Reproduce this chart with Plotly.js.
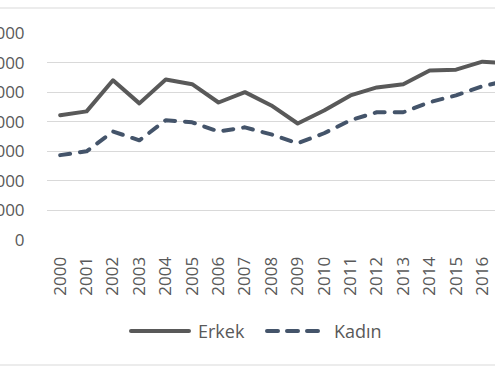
<!DOCTYPE html>
<html>
<head>
<meta charset="utf-8">
<script src="https://cdn.plot.ly/plotly-3.0.1.min.js"></script>
<style>
  html, body { margin: 0; padding: 0; width: 495px; height: 372px; overflow: hidden; background: #fff; position: relative; }
  #chart { position: absolute; left: -40px; top: 0; width: 600px; height: 372px; }
  .scatterlayer path.js-line, .shapelayer path { stroke-linecap: round; stroke-linejoin: round; }
</style>
</head>
<body>
<div id="chart"></div>
<script>
const years = ["2000","2001","2002","2003","2004","2005","2006","2007","2008","2009","2010","2011","2012","2013","2014","2015","2016","2017"];
const erkek = [4220, 4350, 5400, 4620, 5430, 5270, 4650, 5000, 4550, 3940, 4380, 4890, 5160, 5270, 5730, 5760, 6030, 5980];
const kadin = [2870, 3000, 3670, 3370, 4050, 3980, 3670, 3810, 3570, 3270, 3610, 4050, 4320, 4320, 4660, 4890, 5200, 5400];
const yTicks = [0, 1000, 2000, 3000, 4000, 5000, 6000, 7000];
const names = ["Erkek", "Kadın"];

const grey = "#595959";
const blue = "#44546A";
const fontFam = "'Open Sans', 'Liberation Sans', sans-serif";

// page-pixel helpers for legend / frame placement (plot area: x 47..522, y 33..240 in page px)
const OFF = 40;
const PL = 47, PW = 475, PB = 240, PH = 207;
const px = x => (x - PL) / PW;
const py = y => (PB - y) / PH;

const traces = [
  { x: years, y: erkek, name: names[0], type: "scatter", mode: "lines",
    line: { color: grey, width: 4 }, showlegend: false, hoverinfo: "skip" },
  { x: years, y: kadin, name: names[1], type: "scatter", mode: "lines",
    line: { color: blue, width: 4, dash: "10px,10px" }, showlegend: false, hoverinfo: "skip" }
];

const layout = {
  width: 600, height: 372,
  margin: { l: PL + OFF, r: 600 - (PL + OFF + PW), t: 33, b: 372 - PB },
  paper_bgcolor: "#fff", plot_bgcolor: "#fff",
  font: { family: fontFam, color: grey, size: 17 },
  showlegend: false,
  xaxis: {
    type: "category", range: [-0.5, 17.5], tickangle: -90,
    showgrid: false, zeroline: false, showline: false,
    ticks: "outside", ticklen: 9, tickcolor: "rgba(0,0,0,0)",
    tickfont: { size: 17, color: grey, family: fontFam }, automargin: false
  },
  yaxis: {
    range: [0, 7000], tickvals: yTicks, ticktext: yTicks.map(String),
    showgrid: true, gridcolor: "#D9D9D9", gridwidth: 1, zeroline: false, showline: false,
    ticks: "outside", ticklen: 18, tickcolor: "rgba(0,0,0,0)",
    tickfont: { size: 17, color: grey, family: fontFam }, automargin: false
  },
  shapes: [
    { type: "line", xref: "paper", yref: "paper", x0: px(-60), x1: px(560), y0: py(8), y1: py(8), line: { color: "#D9D9D9", width: 1 } },
    { type: "line", xref: "paper", yref: "paper", x0: px(-60), x1: px(560), y0: py(365), y1: py(365), line: { color: "#D9D9D9", width: 1 } },
    { type: "line", xref: "paper", yref: "paper", x0: px(131), x1: px(189), y0: py(331), y1: py(331), line: { color: grey, width: 4 } },
    { type: "line", xref: "paper", yref: "paper", x0: px(267), x1: px(320), y0: py(331), y1: py(331), line: { color: blue, width: 4, dash: "11px,9px" } }
  ],
  annotations: [
    { text: names[0], xref: "paper", yref: "paper", x: px(196), y: py(331), xanchor: "left", yanchor: "middle", showarrow: false, font: { size: 18, color: grey, family: fontFam } },
    { text: names[1], xref: "paper", yref: "paper", x: px(332), y: py(331), xanchor: "left", yanchor: "middle", showarrow: false, font: { size: 18, color: grey, family: fontFam } }
  ]
};

Plotly.newPlot("chart", traces, layout, { displayModeBar: false, staticPlot: true });
</script>
</body>
</html>
